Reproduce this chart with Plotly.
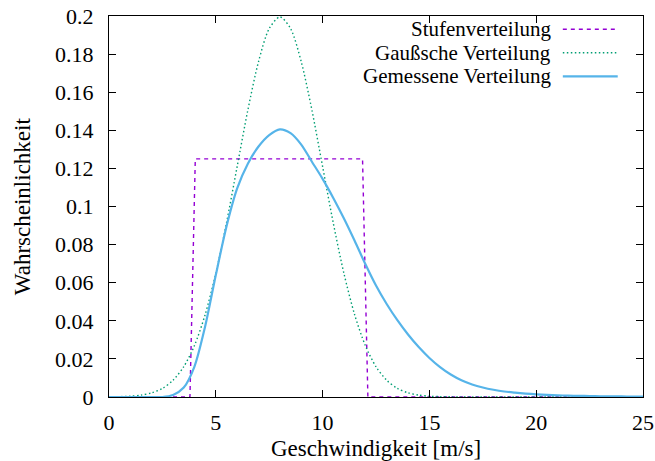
import plotly.graph_objects as go

# ---- data ----
x_half = [i * 0.5 for i in range(51)]  # 0 .. 25 in 0.5 steps

gauss_vals = [0.0001, 0.0002, 0.0004, 0.0010, 0.0022, 0.0045, 0.0088, 0.0159, 0.0270, 0.0432,
              0.0648, 0.0913, 0.1210, 0.1506, 0.1760, 0.1934, 0.1995, 0.1934, 0.1760, 0.1506,
              0.1210, 0.0913, 0.0648, 0.0432, 0.0270, 0.0159, 0.0088, 0.0045, 0.0022, 0.0010,
              0.0004, 0.0002, 0.0001, 0.0, 0.0, 0.0, 0.0, 0.0, 0.0, 0.0,
              0.0, 0.0, 0.0, 0.0, 0.0, 0.0, 0.0, 0.0, 0.0, 0.0, 0.0]

measured_vals = [0.0, 0.0, 0.0, 0.0, 0.0, 0.0, 0.0011, 0.0050, 0.0160, 0.0370,
                 0.0640, 0.0895, 0.1095, 0.1225, 0.1315, 0.1375, 0.1405, 0.1385, 0.1325, 0.1235,
                 0.1145, 0.1045, 0.0937, 0.0820, 0.0698, 0.0585, 0.0488, 0.0403, 0.0328, 0.0262,
                 0.0205, 0.0157, 0.0118, 0.0088, 0.0066, 0.0050, 0.0038, 0.0029, 0.0023, 0.0018,
                 0.0014, 0.0011, 0.0009, 0.0007, 0.0006, 0.0005, 0.0004, 0.0003, 0.0003, 0.0002, 0.0002]

step_x = [0.0, 3.79, 4.04, 11.87, 12.12, 25.0]
step_y = [0.0, 0.0, 0.125, 0.125, 0.0, 0.0]

names = ["Stufenverteilung", "Gaußsche Verteilung", "Gemessene Verteilung"]
colors = ["#9400D3", "#009E73", "#56B4E9"]

x_tickvals = [0, 5, 10, 15, 20, 25]
x_ticktext = ["0", "5", "10", "15", "20", "25"]
y_tickvals = [0, 0.02, 0.04, 0.06, 0.08, 0.1, 0.12, 0.14, 0.16, 0.18, 0.2]
y_ticktext = ["0", "0.02", "0.04", "0.06", "0.08", "0.1", "0.12", "0.14", "0.16", "0.18", "0.2"]

x_title = "Geschwindigkeit [m/s]"
y_title = "Wahrscheinlichkeit"

FONT = "Liberation Serif"
FS_TICK = 22
FS_TEXT = 23
FS_LEGEND = 21
dashes = ["4px,4px", "1.5px,2.5px", "solid"]
widths = [1.4, 1.4, 2.2]

fig = go.Figure()
fig.add_trace(go.Scatter(x=step_x, y=step_y, mode="lines", name=names[0],
                         line=dict(color=colors[0], width=widths[0], dash=dashes[0])))
fig.add_trace(go.Scatter(x=x_half, y=gauss_vals, mode="lines", name=names[1],
                         line=dict(color=colors[1], width=widths[1], dash=dashes[1],
                                   shape="spline", smoothing=0.8)))
fig.add_trace(go.Scatter(x=x_half, y=measured_vals, mode="lines", name=names[2],
                         line=dict(color=colors[2], width=widths[2], dash=dashes[2],
                                   shape="spline", smoothing=0.8)))

axis_common = dict(showline=True, linecolor="black", linewidth=1, mirror="ticks",
                   ticks="inside", ticklen=7, tickcolor="black", tickwidth=1,
                   showgrid=False, zeroline=False, automargin=False,
                   tickfont=dict(family=FONT, size=FS_TICK, color="black"))

fig.update_xaxes(range=[0, 25], tickvals=x_tickvals, ticktext=x_ticktext,
                 ticklabelstandoff=6, **axis_common)
fig.update_yaxes(range=[0, 0.2], tickvals=y_tickvals, ticktext=y_ticktext,
                 ticklabelstandoff=10, **axis_common)

plot_l, plot_r, plot_t, plot_b = 108.5, 643.3, 16.3, 396.7
def px_to_paper_x(px):
    return (px - plot_l) / (plot_r - plot_l)
def px_to_paper_y(py):
    return (plot_b - py) / (plot_b - plot_t)

# axis titles
fig.add_annotation(x=0.5, y=px_to_paper_y(448), xref="paper", yref="paper",
                   text=x_title, showarrow=False, xanchor="center", yanchor="middle",
                   font=dict(family=FONT, size=FS_TEXT, color="black"))
fig.add_annotation(x=px_to_paper_x(22), y=0.5, xref="paper", yref="paper",
                   text=y_title, showarrow=False, xanchor="center", yanchor="middle",
                   textangle=-90, font=dict(family=FONT, size=FS_TEXT, color="black"))

# manual legend (text right, sample on the right like gnuplot)
rows_py = [29.5, 53.0, 76.5]
for i in range(3):
    yp = px_to_paper_y(rows_py[i])
    fig.add_annotation(x=px_to_paper_x(552), y=yp, xref="paper", yref="paper",
                       text=names[i], showarrow=False, xanchor="right", yanchor="middle",
                       borderpad=0,
                       font=dict(family=FONT, size=FS_LEGEND, color="black"))
    fig.add_shape(type="line", xref="paper", yref="paper",
                  x0=px_to_paper_x(563), x1=px_to_paper_x(618), y0=yp, y1=yp,
                  line=dict(color=colors[i], width=widths[i], dash=dashes[i]))

fig.update_layout(width=655, height=461, showlegend=False,
                  margin=dict(l=plot_l, r=655 - plot_r, t=plot_t, b=461 - plot_b, pad=0),
                  paper_bgcolor="white", plot_bgcolor="white",
                  font=dict(family=FONT, size=FS_TICK, color="black"))

fig.write_html("out.html")
